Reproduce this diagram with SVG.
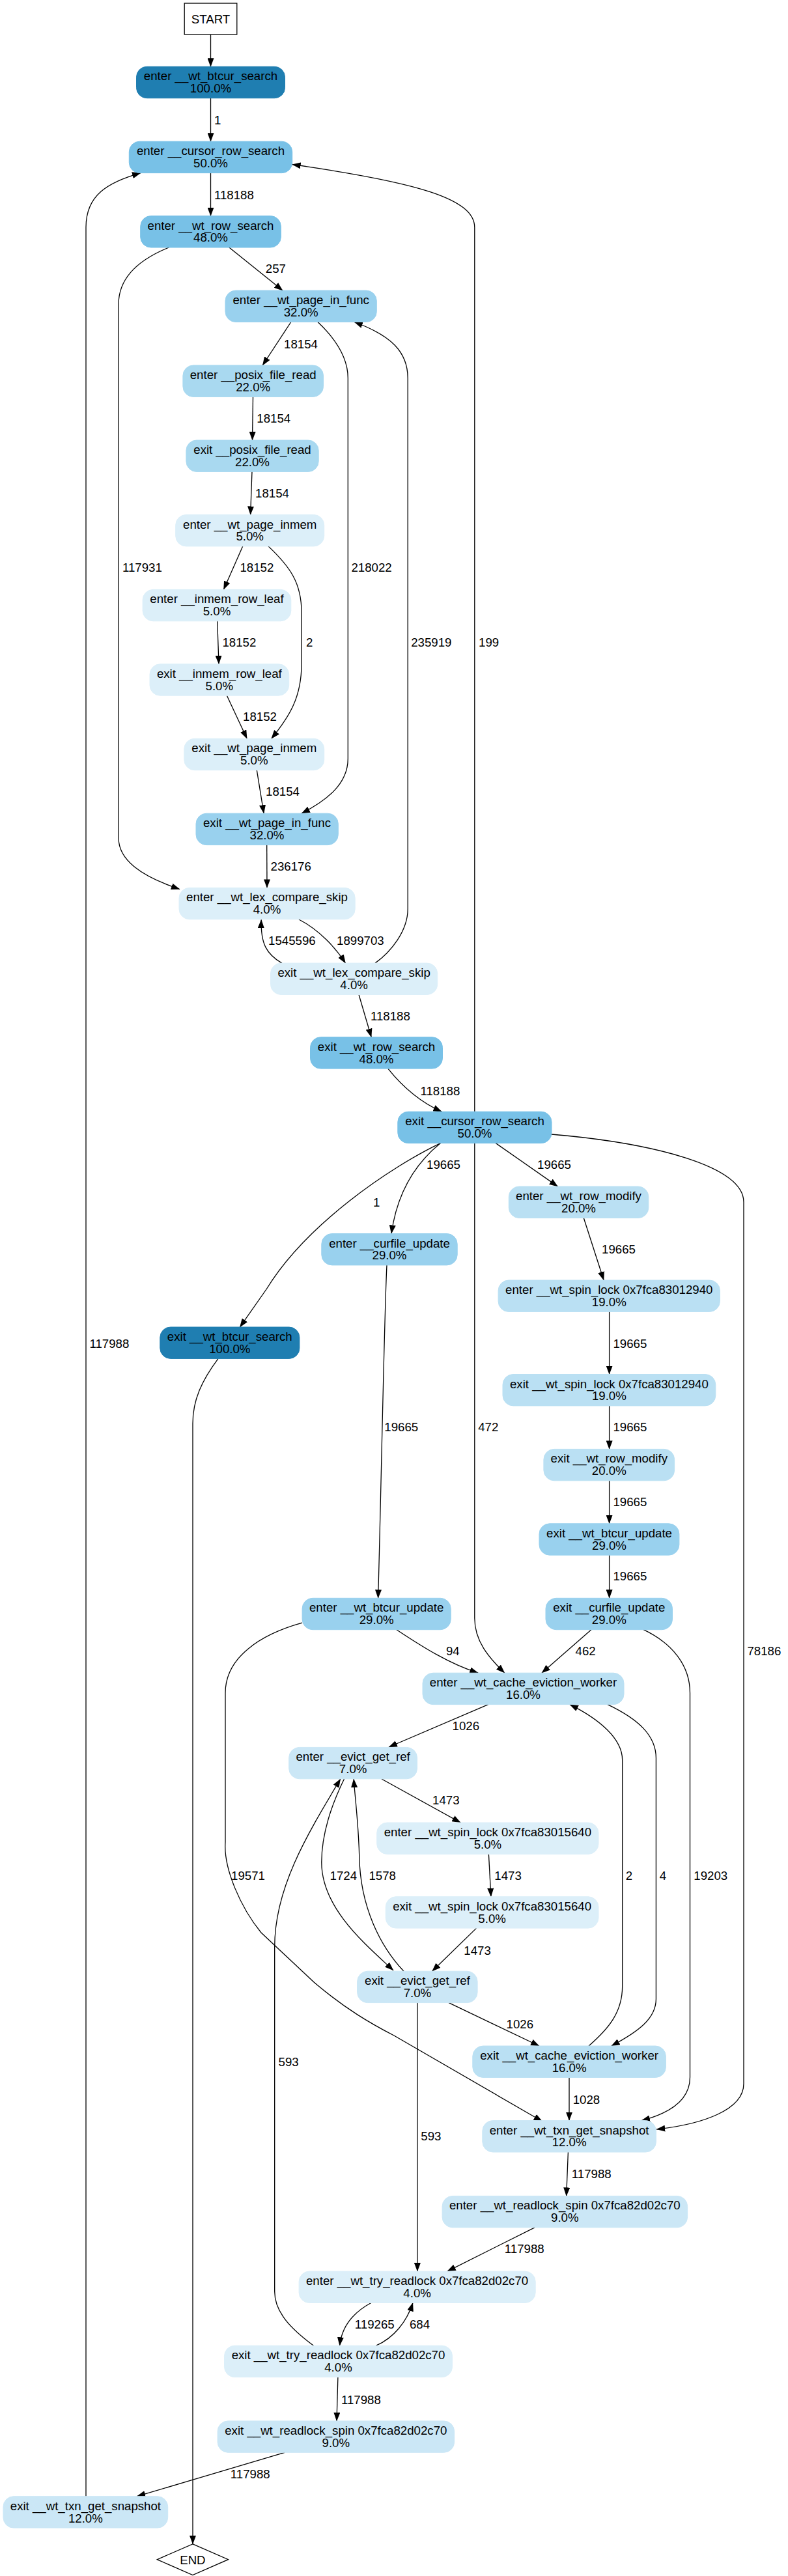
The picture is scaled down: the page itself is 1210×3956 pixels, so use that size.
<svg xmlns="http://www.w3.org/2000/svg" width="1210" height="3956" viewBox="0 0 1210 3956">
<style>
text{font-family:"Liberation Sans",Arial,Helvetica,sans-serif;font-size:18.67px;fill:#000}
.n text{text-anchor:middle}
.p100{fill:#1f7eb1;stroke:#1f7eb1}
.p50{fill:#78c1e7;stroke:#78c1e7}
.p32{fill:#99d1ee;stroke:#99d1ee}
.p22{fill:#a9d9f0;stroke:#a9d9f0}
.p20{fill:#bae0f3;stroke:#bae0f3}
.p12{fill:#cbe7f6;stroke:#cbe7f6}
.p5{fill:#dceff9;stroke:#dceff9}
.e path{fill:none;stroke:#000;stroke-width:1.3;marker-end:url(#a)}
</style>
<defs>
<marker id="a" markerUnits="userSpaceOnUse" markerWidth="14" markerHeight="10" refX="13" refY="5" orient="auto"><path d="M0,0 L13.5,5 L0,10 z" fill="#000"/></marker>
</defs>
<rect width="1210" height="3956" fill="#fff"/>
<g class="e">
<path d="M323.5,53 L323.5,102.3"/>
<path d="M323.5,150.7 L323.5,217.2"/>
<path d="M323.5,265.6 L323.5,331.6"/>
<path d="M351.9,380 L434,446.1"/>
<path d="M259.3,380 C215,398 182.1,425 182.1,467 L182.1,1287 C182.1,1320 215,1345 275.9,1365.5"/>
<path d="M446.8,494.5 L403.2,561"/>
<path d="M488,494.5 C515,520 534.3,550 534.3,580.8 L534.3,1165 C534.3,1205 500,1230 463,1249.2"/>
<path d="M388.5,609.4 L387.5,676"/>
<path d="M387,724 L384.6,790.5"/>
<path d="M372.7,838.9 L343.4,905.4"/>
<path d="M412,838.9 C445,870 463,895 463,940 L463,1020 C463,1070 445,1100 416.7,1134.3"/>
<path d="M333.7,953.3 L336,1019.8"/>
<path d="M348.4,1068.3 L379.2,1134.3"/>
<path d="M394.3,1182.7 L405.1,1249.2"/>
<path d="M409.7,1297.6 L410,1363.4"/>
<path d="M459,1412 C490,1428 515,1455 530.5,1479.1"/>
<path d="M432.9,1479.1 C410,1466 400,1450 401.2,1412.2"/>
<path d="M576,1479.1 C600,1462 626.2,1430 626.2,1395.8 L626.2,580.8 C626.2,540 600,515 544,494.5"/>
<path d="M551,1527.5 L570.2,1592.7"/>
<path d="M596,1641.3 C615,1665 640,1690 678.3,1707.2"/>
<path d="M728.8,1707.2 L728.8,349.3 C728.8,305 640,280 448.7,252.5"/>
<path d="M676.4,1755.6 C600,1792 470,1880 409,1980 L368.4,2038"/>
<path d="M676.4,1755.6 C640,1785 610,1830 601,1894.5"/>
<path d="M761.3,1755.6 L856.5,1822.1"/>
<path d="M728.8,1755.6 L728.8,2485 C728.8,2520 750,2545 774.8,2569.2"/>
<path d="M847,1742 C1000,1755 1142,1790 1142,1846 L1142,3200 C1142,3240 1080,3262 1008.2,3270"/>
<path d="M896.3,1870.5 L927.1,1966"/>
<path d="M935.6,2014.4 L935.6,2110.5"/>
<path d="M935.6,2158.9 L935.6,2225.4"/>
<path d="M935.6,2273.8 L935.6,2339.8"/>
<path d="M935.6,2388.2 L935.6,2454.3"/>
<path d="M594,1942.9 C590,2020 585,2300 580.6,2454.3"/>
<path d="M608.9,2502.7 C650,2530 690,2555 734.2,2569.2"/>
<path d="M464.1,2492.2 C400,2510 346,2545 346,2600 L346,2829 C343,2870 370,2930 401,2968 L482,3044 C530,3085 570,3108 605,3126 L832.6,3257.8"/>
<path d="M907.9,2502.7 L831.9,2569.2"/>
<path d="M988.1,2502.7 C1035,2525 1059.5,2560 1059.5,2600 L1059.5,3190 C1059.5,3225 1030,3245 985,3256.6"/>
<path d="M749.7,2617.6 L597,2683"/>
<path d="M933,2617.6 C980,2640 1007.4,2665 1007.4,2700 L1007.4,3070 C1007.4,3100 980,3120 938.7,3142"/>
<path d="M904,3142 C935,3115 955.7,3090 955.7,3050 L955.7,2703 C955.7,2670 920,2640 875,2617.6"/>
<path d="M586,2732 L707.2,2799"/>
<path d="M750.4,2847.4 L753.9,2912.7"/>
<path d="M731.5,2961.1 L663.6,3027.2"/>
<path d="M528.5,2732 C505,2780 493.8,2820 493.8,2860 C493.8,2930 560,2985 604,3026"/>
<path d="M620,3027.2 C585,2990 553,2930 551.7,2850 C550.5,2800 545,2760 543.2,2732"/>
<path d="M689.1,3075.6 L828,3142"/>
<path d="M640.9,3075.6 L640.9,3488.1"/>
<path d="M874,3190.4 L874,3256.6"/>
<path d="M872.4,3305 L869.7,3372.4"/>
<path d="M821,3420.8 L686.8,3488.1"/>
<path d="M569.8,3536.5 C545,3550 525,3570 521.6,3602.2"/>
<path d="M577.5,3602.2 C605,3590 625,3565 633.9,3536.5"/>
<path d="M481.5,3602.2 C445,3575 421.7,3550 421.7,3519 L421.7,2990 C421.7,2900 470,2820 522.8,2732"/>
<path d="M518.9,3650.6 L517,3717.9"/>
<path d="M437.1,3766.3 L210.3,3833.7"/>
<path d="M132,3833.7 L132,349 C132,300 165,280 216,265.6"/>
<path d="M334.9,2086.6 C310,2120 296,2150 296,2186 L296,3906.9"/>
</g>
<g class="lbl">
<text x="329" y="190.7">1</text>
<text x="329" y="305.5">118188</text>
<text x="407.8" y="419.2">257</text>
<text x="188" y="878.4">117931</text>
<text x="436" y="534.5">18154</text>
<text x="539.4" y="878.4">218022</text>
<text x="394.3" y="649.4">18154</text>
<text x="392" y="763.5">18154</text>
<text x="368.4" y="878.4">18152</text>
<text x="470" y="993.3">2</text>
<text x="341.4" y="993.3">18152</text>
<text x="373" y="1107.4">18152</text>
<text x="408" y="1222.3">18154</text>
<text x="415.5" y="1337.2">236176</text>
<text x="517" y="1451.3">1899703</text>
<text x="412" y="1451.3">1545596</text>
<text x="631.2" y="993.3">235919</text>
<text x="569" y="1566.6">118188</text>
<text x="645.5" y="1681.5">118188</text>
<text x="735" y="993.3">199</text>
<text x="573" y="1852.7">1</text>
<text x="655" y="1795.1">19665</text>
<text x="825" y="1795.1">19665</text>
<text x="734.2" y="2198.4">472</text>
<text x="1147.4" y="2542.3">78186</text>
<text x="924" y="1925.2">19665</text>
<text x="941.4" y="2069.7">19665</text>
<text x="941.4" y="2198.4">19665</text>
<text x="941.4" y="2313.3">19665</text>
<text x="941.4" y="2427.4">19665</text>
<text x="590.3" y="2198.4">19665</text>
<text x="684.9" y="2542.3">94</text>
<text x="355" y="2886.7">19571</text>
<text x="883.6" y="2542.3">462</text>
<text x="1065.3" y="2886.7">19203</text>
<text x="694.5" y="2657.2">1026</text>
<text x="1012.8" y="2886.7">4</text>
<text x="960.7" y="2886.7">2</text>
<text x="664" y="2771.3">1473</text>
<text x="759.3" y="2886.7">1473</text>
<text x="712.3" y="3001.5">1473</text>
<text x="506.6" y="2886.7">1724</text>
<text x="566.4" y="2886.7">1578</text>
<text x="777.5" y="3115.1">1026</text>
<text x="646.3" y="3287.3">593</text>
<text x="879.7" y="3230.5">1028</text>
<text x="877.8" y="3345.4">117988</text>
<text x="774.8" y="3460.3">117988</text>
<text x="544.8" y="3576.1">119265</text>
<text x="628.9" y="3576.1">684</text>
<text x="427.5" y="3172.8">593</text>
<text x="524" y="3691.8">117988</text>
<text x="353.8" y="3806.3">117988</text>
<text x="137.5" y="2069.7">117988</text>
</g>
<g id="start" class="n"><rect x="283.2" y="5" width="80.6" height="48" fill="#fff" stroke="#000" stroke-width="1.3"/><text x="323.5" y="36">START</text></g>
<g id="n1" class="n"><rect class="p100" x="209.5" y="102.3" width="228" height="48.4" rx="16"/><text x="323.5" y="123.3">enter __wt_btcur_search</text><text x="323.5" y="142.1">100.0%</text></g>
<g id="n2" class="n"><rect class="p50" x="198.3" y="217.2" width="250.4" height="48.4" rx="16"/><text x="323.5" y="238.2">enter __cursor_row_search</text><text x="323.5" y="257">50.0%</text></g>
<g id="n3" class="n"><rect class="p50" x="215.7" y="331.6" width="215.6" height="48.4" rx="16"/><text x="323.5" y="352.6">enter __wt_row_search</text><text x="323.5" y="371.4">48.0%</text></g>
<g id="n4" class="n"><rect class="p32" x="346" y="446.1" width="232.3" height="48.4" rx="16"/><text x="462.2" y="467.1">enter __wt_page_in_func</text><text x="462.2" y="485.9">32.0%</text></g>
<g id="n5" class="n"><rect class="p22" x="280.9" y="561" width="215.6" height="48.4" rx="16"/><text x="388.7" y="582">enter __posix_file_read</text><text x="388.7" y="600.8">22.0%</text></g>
<g id="n6" class="n"><rect class="p22" x="285.9" y="676" width="203.3" height="48.4" rx="16"/><text x="387.5" y="697">exit __posix_file_read</text><text x="387.5" y="715.8">22.0%</text></g>
<g id="n7" class="n"><rect class="p5" x="269.7" y="790.5" width="228" height="48.4" rx="16"/><text x="383.7" y="811.5">enter __wt_page_inmem</text><text x="383.7" y="830.3">5.0%</text></g>
<g id="n8" class="n"><rect class="p5" x="219.1" y="905.4" width="227.7" height="48.4" rx="16"/><text x="333" y="926.4">enter __inmem_row_leaf</text><text x="333" y="945.2">5.0%</text></g>
<g id="n9" class="n"><rect class="p5" x="230" y="1019.8" width="213.7" height="48.4" rx="16"/><text x="336.8" y="1040.8">exit __inmem_row_leaf</text><text x="336.8" y="1059.6">5.0%</text></g>
<g id="n10" class="n"><rect class="p5" x="282.8" y="1134.3" width="214.9" height="48.4" rx="16"/><text x="390.3" y="1155.3">exit __wt_page_inmem</text><text x="390.3" y="1174.1">5.0%</text></g>
<g id="n11" class="n"><rect class="p32" x="301" y="1249.2" width="218.3" height="48.4" rx="16"/><text x="410" y="1270.2">exit __wt_page_in_func</text><text x="410" y="1289">32.0%</text></g>
<g id="n12" class="n"><rect class="p5" x="275" y="1363.4" width="270.2" height="48.4" rx="16"/><text x="410" y="1384.4">enter __wt_lex_compare_skip</text><text x="410" y="1403.2">4.0%</text></g>
<g id="n13" class="n"><rect class="p5" x="415.5" y="1479.1" width="256.2" height="48.4" rx="16"/><text x="543.6" y="1500.1">exit __wt_lex_compare_skip</text><text x="543.6" y="1518.9">4.0%</text></g>
<g id="n14" class="n"><rect class="p50" x="476.5" y="1592.7" width="203" height="48.4" rx="16"/><text x="578" y="1613.7">exit __wt_row_search</text><text x="578" y="1632.5">48.0%</text></g>
<g id="n15" class="n"><rect class="p50" x="610.8" y="1707.2" width="236.2" height="48.4" rx="16"/><text x="729" y="1728.2">exit __cursor_row_search</text><text x="729" y="1747">50.0%</text></g>
<g id="n16" class="n"><rect class="p32" x="493.8" y="1894.5" width="208.4" height="48.4" rx="16"/><text x="598" y="1915.5">enter __curfile_update</text><text x="598" y="1934.3">29.0%</text></g>
<g id="n17" class="n"><rect class="p20" x="781.3" y="1822.1" width="214.5" height="48.4" rx="16"/><text x="888.5" y="1843.1">enter __wt_row_modify</text><text x="888.5" y="1861.9">20.0%</text></g>
<g id="n18" class="n"><rect class="p20" x="765.1" y="1966" width="340.3" height="48.4" rx="16"/><text x="935.3" y="1987">enter __wt_spin_lock 0x7fca83012940</text><text x="935.3" y="2005.8">19.0%</text></g>
<g id="n19" class="n"><rect class="p100" x="245.8" y="2038" width="214.1" height="48.4" rx="16"/><text x="352.8" y="2059">exit __wt_btcur_search</text><text x="352.8" y="2077.8">100.0%</text></g>
<g id="n20" class="n"><rect class="p20" x="772" y="2110.5" width="326.8" height="48.4" rx="16"/><text x="935.4" y="2131.5">exit __wt_spin_lock 0x7fca83012940</text><text x="935.4" y="2150.3">19.0%</text></g>
<g id="n21" class="n"><rect class="p20" x="834.9" y="2225.4" width="200.7" height="48.4" rx="16"/><text x="935.3" y="2246.4">exit __wt_row_modify</text><text x="935.3" y="2265.2">20.0%</text></g>
<g id="n22" class="n"><rect class="p32" x="828" y="2339.8" width="214.9" height="48.4" rx="16"/><text x="935.5" y="2360.8">exit __wt_btcur_update</text><text x="935.5" y="2379.6">29.0%</text></g>
<g id="n23" class="n"><rect class="p32" x="464.1" y="2454.3" width="228.1" height="48.4" rx="16"/><text x="578.2" y="2475.3">enter __wt_btcur_update</text><text x="578.2" y="2494.1">29.0%</text></g>
<g id="n24" class="n"><rect class="p32" x="838" y="2454.3" width="194.5" height="48.4" rx="16"/><text x="935.3" y="2475.3">exit __curfile_update</text><text x="935.3" y="2494.1">29.0%</text></g>
<g id="n25" class="n"><rect class="p20" x="649" y="2569.2" width="309" height="48.4" rx="16"/><text x="803.5" y="2590.2">enter __wt_cache_eviction_worker</text><text x="803.5" y="2609">16.0%</text></g>
<g id="n26" class="n"><rect class="p12" x="443.7" y="2683.4" width="196.8" height="48.4" rx="16"/><text x="542.1" y="2704.4">enter __evict_get_ref</text><text x="542.1" y="2723.2">7.0%</text></g>
<g id="n27" class="n"><rect class="p5" x="578.7" y="2799" width="340.3" height="48.4" rx="16"/><text x="748.9" y="2820">enter __wt_spin_lock 0x7fca83015640</text><text x="748.9" y="2838.8">5.0%</text></g>
<g id="n28" class="n"><rect class="p5" x="592.2" y="2912.7" width="326.8" height="48.4" rx="16"/><text x="755.6" y="2933.7">exit __wt_spin_lock 0x7fca83015640</text><text x="755.6" y="2952.5">5.0%</text></g>
<g id="n29" class="n"><rect class="p12" x="548.6" y="3027.2" width="184.5" height="48.4" rx="16"/><text x="640.9" y="3048.2">exit __evict_get_ref</text><text x="640.9" y="3067">7.0%</text></g>
<g id="n30" class="n"><rect class="p20" x="725.8" y="3142" width="296.6" height="48.4" rx="16"/><text x="874.1" y="3163">exit __wt_cache_eviction_worker</text><text x="874.1" y="3181.8">16.0%</text></g>
<g id="n31" class="n"><rect class="p12" x="740.8" y="3256.6" width="266.6" height="48.4" rx="16"/><text x="874.1" y="3277.6">enter __wt_txn_get_snapshot</text><text x="874.1" y="3296.4">12.0%</text></g>
<g id="n32" class="n"><rect class="p12" x="679.1" y="3372.4" width="376.5" height="48.4" rx="16"/><text x="867.3" y="3393.4">enter __wt_readlock_spin 0x7fca82d02c70</text><text x="867.3" y="3412.2">9.0%</text></g>
<g id="n33" class="n"><rect class="p5" x="459.1" y="3488.1" width="363.1" height="48.4" rx="16"/><text x="640.6" y="3509.1">enter __wt_try_readlock 0x7fca82d02c70</text><text x="640.6" y="3527.9">4.0%</text></g>
<g id="n34" class="n"><rect class="p5" x="344.5" y="3602.2" width="350" height="48.4" rx="16"/><text x="519.5" y="3623.2">exit __wt_try_readlock 0x7fca82d02c70</text><text x="519.5" y="3642">4.0%</text></g>
<g id="n35" class="n"><rect class="p12" x="334.1" y="3717.9" width="363.5" height="48.4" rx="16"/><text x="515.8" y="3738.9">exit __wt_readlock_spin 0x7fca82d02c70</text><text x="515.8" y="3757.7">9.0%</text></g>
<g id="n36" class="n"><rect class="p12" x="5" y="3833.7" width="252.7" height="48.4" rx="16"/><text x="131.4" y="3854.7">exit __wt_txn_get_snapshot</text><text x="131.4" y="3873.5">12.0%</text></g>
<g id="end" class="n"><polygon points="295.9,3906.9 350.5,3930.7 295.9,3954.5 241.3,3930.7" fill="#fff" stroke="#000" stroke-width="1.3"/><text x="295.9" y="3937.7">END</text></g>
</svg>
